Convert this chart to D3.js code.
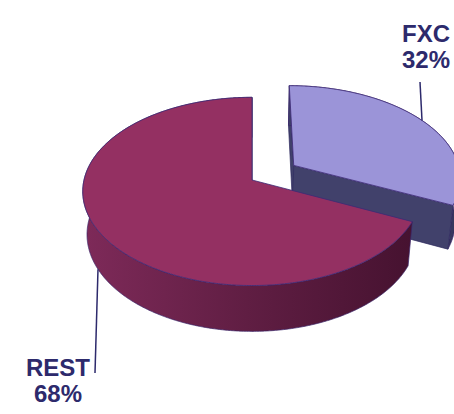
<!DOCTYPE html>
<html>
<head>
<meta charset="utf-8">
<script src="https://d3js.org/d3.v7.min.js"></script>
<style>
  body { margin: 0; background: #fff; }
  svg { display: block; }
</style>
</head>
<body>
<script>
// data
var categories = ['FXC', 'REST'];
var values = [32, 68];
var percentLabels = ['32%', '68%'];

var width = 454, height = 414;

// camera / pie geometry (world units, R = 1)
var R = 1, depth = 0.315;
var phi = 33.5 * Math.PI / 180;
var camDist = 6.87, focal = 1154;
var cx = 252, cy = 180;
var explode = {FXC: 0.3};

// label layout
var labelPos = {
    FXC: {x: 426, y: 42, lineEnd: [420, 82], anchorY: 0, shift: 0},
    REST: {x: 58, y: 376, lineEnd: [95, 373], anchorY: -depth, shift: 0.09}
};

var topColor = d3.scaleOrdinal().domain(categories).range(['#9b94d8', '#943062']);
var cutColor = d3.scaleOrdinal().domain(categories).range(['#41416b', '#5a1c3c']);
var textColor = '#2d2a6c';

var svg = d3.select('body').append('svg')
    .attr('width', width)
    .attr('height', height);

var defs = svg.append('defs');
var wallStops = {
    FXC: [[0, '#4d4d7e'], [1, '#37375e']],
    REST: [[0, '#7e2a59'], [0.5, '#601e43'], [1, '#461230']]
};
categories.forEach(function (c) {
    var g = defs.append('linearGradient')
        .attr('id', 'wall-' + c)
        .attr('gradientUnits', 'userSpaceOnUse')
        .attr('x1', 82).attr('y1', 0)
        .attr('x2', 412).attr('y2', 0);
    wallStops[c].forEach(function (s) {
        g.append('stop').attr('offset', s[0]).attr('stop-color', s[1]);
    });
});

function proj(x, y, z) {
    var w = camDist - (y * Math.sin(phi) + z * Math.cos(phi));
    var yc = y * Math.cos(phi) - z * Math.sin(phi);
    return [cx + focal * x / w, cy - focal * yc / w];
}

var pie = d3.pie().sort(null).value(d => d.value);
var slices = pie(categories.map((c, i) => ({cat: c, value: values[i], label: percentLabels[i]})));

function offset(s) {
    var e = explode[s.data.cat] || 0;
    var m = (s.startAngle + s.endAngle) / 2;
    return [e * Math.sin(m), -e * Math.cos(m)];
}

function rim(s, th, y) {
    var o = offset(s);
    return proj(o[0] + R * Math.sin(th), y, o[1] - R * Math.cos(th));
}

function centre(s, y) {
    var o = offset(s);
    return proj(o[0], y, o[1]);
}

function arcPts(s, y, a0, a1) {
    var n = Math.max(2, Math.ceil(Math.abs(a1 - a0) / (Math.PI / 360)));
    var pts = [];
    for (var i = 0; i <= n; i++) {
        pts.push(rim(s, a0 + (a1 - a0) * i / n, y));
    }
    return pts;
}

var line = d3.line().curve(d3.curveLinearClosed);

function cutVisible(s, a, isEnd) {
    var o = offset(s);
    var dir = isEnd ? a + Math.PI / 2 : a - Math.PI / 2;
    var nx = Math.sin(dir), nz = -Math.cos(dir);
    return (-o[0]) * nx + (camDist * Math.cos(phi) - o[1]) * nz > 0;
}

function cutFace(s, a) {
    return [centre(s, 0), rim(s, a, 0), rim(s, a, -depth), centre(s, -depth)];
}

var g = svg.append('g');

// draw back (exploded) slice first, then the big one in front
slices.forEach(function (s) {
    var c = s.data.cat;
    var sg = g.append('g').attr('class', 'slice-' + c);

    if (cutVisible(s, s.startAngle, false)) {
        sg.append('path')
            .attr('d', line(cutFace(s, s.startAngle)))
            .attr('fill', cutColor(c))
            .attr('stroke', '#2e2a5e').attr('stroke-width', 0.7);
    }

    var wall = arcPts(s, 0, s.startAngle, s.endAngle)
        .concat(arcPts(s, -depth, s.endAngle, s.startAngle));
    sg.append('path')
        .attr('d', line(wall))
        .attr('fill', 'url(#wall-' + c + ')')
        .attr('stroke', '#3a2468').attr('stroke-width', 0.7);

    if (cutVisible(s, s.endAngle, true)) {
        sg.append('path')
            .attr('d', line(cutFace(s, s.endAngle)))
            .attr('fill', cutColor(c))
            .attr('stroke', '#2e2a5e').attr('stroke-width', 0.7);
    }

    var top = [centre(s, 0)].concat(arcPts(s, 0, s.startAngle, s.endAngle));
    sg.append('path')
        .attr('d', line(top))
        .attr('fill', topColor(c))
        .attr('stroke', '#3d2a76').attr('stroke-width', 0.8);
});

// labels with leader lines
slices.forEach(function (s) {
    var c = s.data.cat;
    var lp = labelPos[c];
    var mid = (s.startAngle + s.endAngle) / 2 + lp.shift;
    var a = rim(s, mid, lp.anchorY);
    svg.append('line')
        .attr('x1', a[0]).attr('y1', a[1])
        .attr('x2', lp.lineEnd[0]).attr('y2', lp.lineEnd[1])
        .attr('stroke', textColor)
        .attr('stroke-width', 1.5);
    var t = svg.append('text')
        .attr('x', lp.x)
        .attr('y', lp.y)
        .attr('text-anchor', 'middle')
        .attr('fill', textColor)
        .style('font-family', '"Liberation Sans", Arial, sans-serif')
        .style('font-weight', 'bold')
        .style('font-size', '24px');
    t.append('tspan').attr('x', lp.x).text(c);
    t.append('tspan').attr('x', lp.x).attr('dy', 26).text(s.data.label);
});
</script>
</body>
</html>
